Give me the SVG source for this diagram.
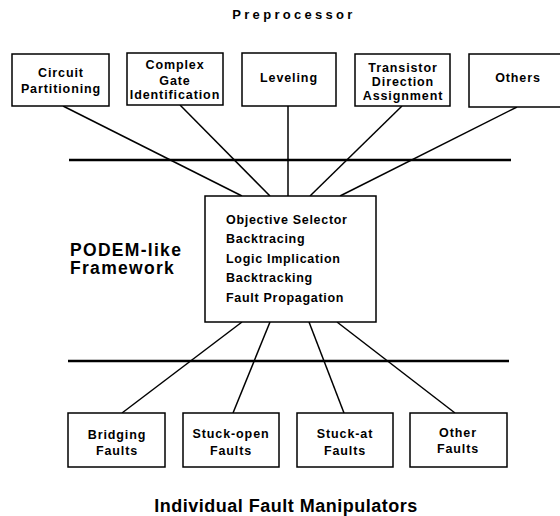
<svg xmlns="http://www.w3.org/2000/svg" width="560" height="516" viewBox="0 0 560 516">
<style>
.box{fill:#fff;stroke:#000;stroke-width:1.5}
.t{font-family:"Liberation Sans",Arial,sans-serif;font-weight:bold;font-size:12.5px;letter-spacing:0.9px;text-anchor:middle;fill:#000}
.c{font-family:"Liberation Sans",Arial,sans-serif;font-weight:bold;font-size:12.5px;letter-spacing:0.7px;fill:#000}
.big{font-family:"Liberation Sans",Arial,sans-serif;font-weight:bold;font-size:17.5px;letter-spacing:1.3px;fill:#000}
.title{font-family:"Liberation Sans",Arial,sans-serif;font-weight:bold;fill:#000}
.bar{stroke:#000;stroke-width:2.5}
.ln{stroke:#000;stroke-width:1.5;fill:none}
</style>
<rect width="560" height="516" fill="#fff"/>
<text class="title" x="294" y="19" font-size="13" letter-spacing="3.3" text-anchor="middle">Preprocessor</text>
<text class="title" x="286" y="512" font-size="18" letter-spacing="0.5" text-anchor="middle">Individual Fault Manipulators</text>
<g id="connectors">
<line class="bar" x1="69" y1="160" x2="511" y2="160"/>
<line class="bar" x1="68" y1="361" x2="509" y2="361"/>
<line class="ln" x1="63" y1="106" x2="242" y2="196"/>
<line class="ln" x1="180" y1="105" x2="270" y2="196"/>
<line class="ln" x1="288" y1="106" x2="288" y2="196"/>
<line class="ln" x1="402" y1="106" x2="310" y2="196"/>
<line class="ln" x1="517" y1="107" x2="340" y2="196"/>
<line class="ln" x1="242" y1="322" x2="122" y2="413"/>
<line class="ln" x1="270" y1="322" x2="233" y2="413"/>
<line class="ln" x1="309" y1="322" x2="344" y2="413"/>
<line class="ln" x1="337" y1="322" x2="455" y2="413"/>
</g>
<g id="circuit-partitioning">
<rect class="box" x="12" y="54" width="97" height="52"/>
<text class="t" x="61" y="77">Circuit</text>
<text class="t" x="61" y="93">Partitioning</text>
</g>
<g id="complex-gate">
<rect class="box" x="127" y="53" width="96" height="52"/>
<text class="t" x="175" y="69">Complex</text>
<text class="t" x="175" y="85">Gate</text>
<text class="t" x="175" y="99">Identification</text>
</g>
<g id="leveling">
<rect class="box" x="242" y="53" width="94" height="53"/>
<text class="t" x="289" y="82">Leveling</text>
</g>
<g id="transistor-direction">
<rect class="box" x="355" y="54" width="95" height="52"/>
<text class="t" x="403" y="72" font-size="12">Transistor</text>
<text class="t" x="403" y="86" font-size="12">Direction</text>
<text class="t" x="403" y="100" font-size="12">Assignment</text>
</g>
<g id="others">
<rect class="box" x="469" y="54" width="98" height="53"/>
<text class="t" x="518" y="82">Others</text>
</g>
<g id="podem-label">
<text class="big" x="70" y="256">PODEM-like</text>
<text class="big" x="70" y="274">Framework</text>
</g>
<g id="podem">
<rect class="box" x="205" y="196" width="171" height="126"/>
<text class="c" x="226" y="224">Objective Selector</text>
<text class="c" x="226" y="243">Backtracing</text>
<text class="c" x="226" y="263">Logic  Implication</text>
<text class="c" x="226" y="282">Backtracking</text>
<text class="c" x="226" y="302">Fault Propagation</text>
</g>
<g id="bridging">
<rect class="box" x="68" y="413" width="97" height="54"/>
<text class="t" x="117" y="439">Bridging</text>
<text class="t" x="117" y="455">Faults</text>
</g>
<g id="stuck-open">
<rect class="box" x="183" y="413" width="96" height="54"/>
<text class="t" x="231" y="438">Stuck-open</text>
<text class="t" x="231" y="455">Faults</text>
</g>
<g id="stuck-at">
<rect class="box" x="297" y="413" width="96" height="54"/>
<text class="t" x="345" y="438">Stuck-at</text>
<text class="t" x="345" y="455">Faults</text>
</g>
<g id="other-faults">
<rect class="box" x="410" y="413" width="97" height="54"/>
<text class="t" x="458" y="437">Other</text>
<text class="t" x="458" y="453">Faults</text>
</g>
</svg>
